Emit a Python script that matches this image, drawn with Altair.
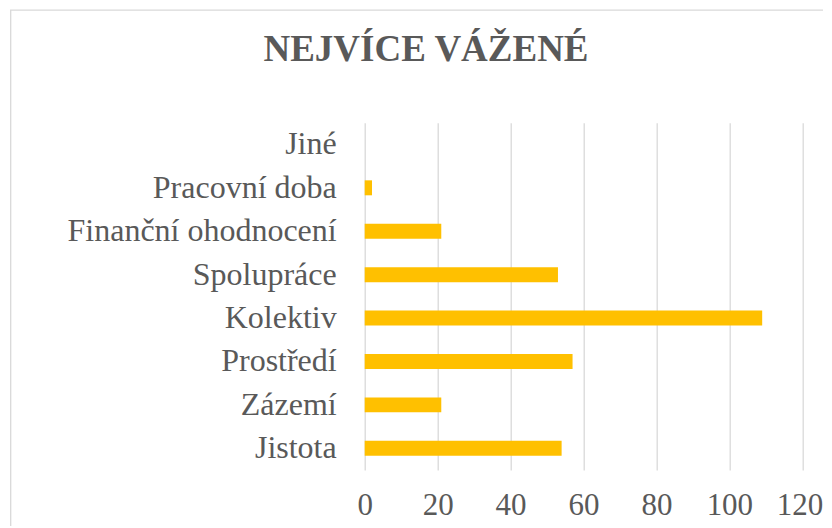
import altair as alt
import pandas as pd

categories = ["Jiné", "Pracovní doba", "Finanční ohodnocení", "Spolupráce",
              "Kolektiv", "Prostředí", "Zázemí", "Jistota"]
values = [0, 2, 21, 53, 109, 57, 21, 54]
x_ticks = [0, 20, 40, 60, 80, 100, 120]

df = pd.DataFrame({"kategorie": categories, "hodnota": values})

FONT = "Liberation Serif"
GREY = "#595959"

bars = alt.Chart(df).mark_bar(color="#FFC000").encode(
    x=alt.X("hodnota:Q",
            scale=alt.Scale(domain=[0, 120], nice=False),
            axis=alt.Axis(values=x_ticks, title=None, grid=True, gridColor="#D9D9D9",
                          gridWidth=1.3, domain=False, ticks=False, tickSize=0,
                          labelFont=FONT, labelFontSize=31, labelColor=GREY,
                          labelPadding=21, labelFlush=False,
                          labelAlign={"condition": {"test": "datum.value == 120", "value": "right"},
                                      "value": "center"},
                          labelOffset={"condition": {"test": "datum.value == 120", "value": 20.5},
                                       "value": 0})),
    y=alt.Y("kategorie:N", sort=categories,
            scale=alt.Scale(paddingInner=0.655, paddingOuter=0.3275),
            axis=alt.Axis(title=None, domain=False, ticks=False, tickSize=0,
                          labelFont=FONT, labelFontSize=32, labelColor=GREY,
                          labelPadding=28.5, labelLimit=400)),
)

frame = alt.Chart(alt.Data(values=[{}])).mark_rect(
    fill=None, stroke="#D9D9D9", strokeWidth=1.3
).encode(
    x=alt.value(-354), x2=alt.value(1000),
    y=alt.value(-112.5), y2=alt.value(1000),
)

chart = alt.layer(frame, bars).properties(
    width=437.6,
    height=347.3,
    title=alt.TitleParams("NEJVÍCE VÁŽENÉ", font=FONT, fontSize=37, fontWeight="bold",
                          color=GREY, anchor="middle", dx=-157.5, offset=-88,
                          baseline="alphabetic"),
    autosize=alt.AutoSizeParams(type="none"),
    padding={"left": 356.7, "top": 114.7, "right": 21, "bottom": 56},
).configure_view(stroke=None)

chart.save("out.html", embed_options={"renderer": "svg", "actions": False})
